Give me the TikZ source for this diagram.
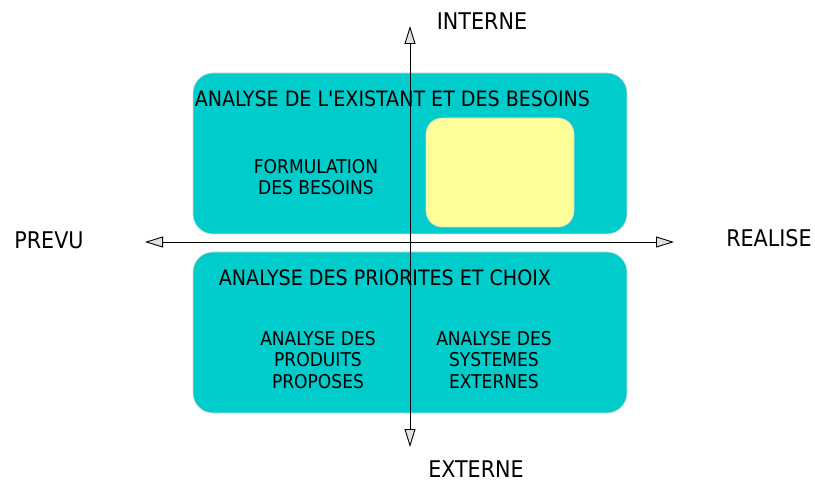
\documentclass[tikz,border=0pt]{standalone}
\usepackage{fontspec}
\setmainfont{DejaVu Sans Condensed}
% same face without TeX ligature mapping, so ' stays a straight quote
\newfontfamily\plainface{DejaVu Sans Condensed}
\usetikzlibrary{arrows.meta}
\definecolor{teal}{RGB}{0,204,204}
\definecolor{paleyellow}{RGB}{255,255,153}
\definecolor{rim}{RGB}{215,215,215}
\definecolor{tipfill}{RGB}{225,225,225}
\tikzset{
  panel/.style={fill=teal, draw=rim, line width=0.6pt, rounded corners=20pt},
  note/.style={fill=paleyellow, draw=rim, line width=0.6pt, rounded corners=16pt},
  axislabel/.style={inner sep=0pt, font=\fontsize{23}{26}\selectfont},
  title/.style={inner sep=0pt, font=\plainface\fontsize{21.2}{24}\selectfont},
  sublabel/.style={inner sep=0pt, align=center, font=\fontsize{19}{21.5}\selectfont},
  axis/.style={line width=0.9pt,
    {Triangle[open, fill=tipfill, length=18pt, width=11pt]}-{Triangle[open, fill=tipfill, length=18pt, width=11pt]}},
}
\begin{document}
\begin{tikzpicture}[x=1pt, y=-1pt]
\useasboundingbox (0,0) rectangle (815,484);

% the two quadrant panels
\draw[panel] (193,73) rectangle (627,234);
\draw[panel] (193,252) rectangle (627,413);
\draw[note] (426,118) rectangle (574,227);

% panel texts
\node[title, anchor=base] (t1) at (392.5,107) {ANALYSE DE L'EXISTANT ET DES BESOINS};
\node[sublabel] (f1) at (316,177) {FORMULATION\\DES BESOINS};
\node[title, anchor=base] (t2) at (385,285) {ANALYSE DES PRIORITES ET CHOIX};
\node[sublabel] (p1) at (318,360) {ANALYSE DES\\PRODUITS\\PROPOSES};
\node[sublabel] (s1) at (494,360) {ANALYSE DES\\SYSTEMES\\EXTERNES};

% axis ends
\coordinate (top) at (410,26);
\coordinate (bottom) at (410,447);
\coordinate (left) at (145,242);
\coordinate (right) at (674,242);

\draw[axis] (bottom) -- (top);
\draw[axis] (left) -- (right);

% axis labels
\node[axislabel, anchor=base] (interne) at (482,30) {INTERNE};
\node[axislabel, anchor=base] (externe) at (476,477) {EXTERNE};
\node[axislabel, anchor=base] (prevu) at (49,248) {PREVU};
\node[axislabel, anchor=base] (realise) at (769,247) {REALISE};
\end{tikzpicture}
\end{document}
